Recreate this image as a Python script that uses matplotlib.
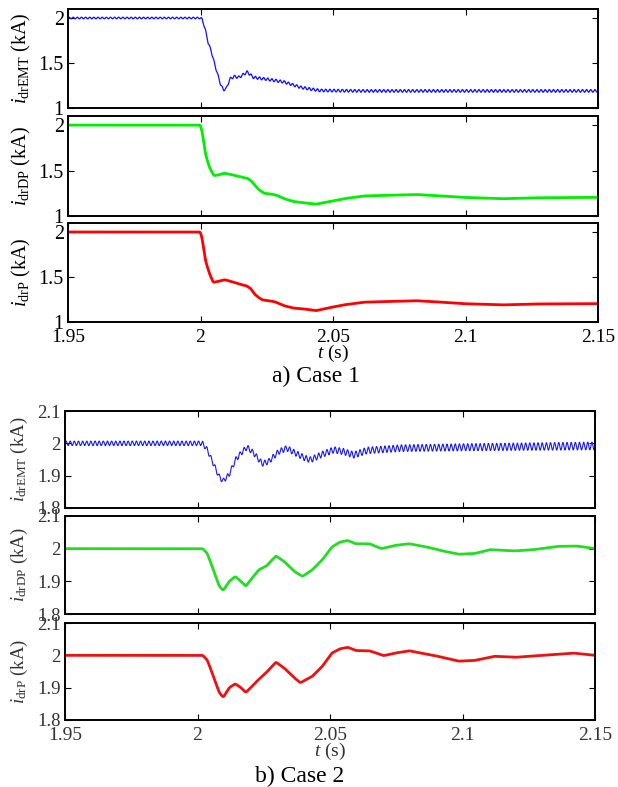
import numpy as np
import matplotlib
matplotlib.use("Agg")
import matplotlib.pyplot as plt

plt.rcParams['font.family'] = ['Liberation Serif', 'DejaVu Serif']
plt.rcParams['mathtext.fontset'] = 'custom'
plt.rcParams['mathtext.rm'] = 'Liberation Serif'
plt.rcParams['mathtext.it'] = 'Liberation Serif:italic'

# ---- Case 1 data ----
c1_emt_t = [1.95, 2.0, 2.0006, 2.0019, 2.0028, 2.0038, 2.0057, 2.0075, 2.0086, 2.0098, 2.011,
            2.0126, 2.0145, 2.0176, 2.02, 2.025, 2.0314, 2.0377, 2.0415, 2.045, 2.06, 2.15]
c1_emt_v = [2.0, 2.0, 1.99, 1.86, 1.73, 1.655, 1.45, 1.27, 1.20, 1.22, 1.32,
            1.35, 1.34, 1.40, 1.34, 1.32, 1.29, 1.23, 1.21, 1.195, 1.19, 1.19]
c1_ripple_t = [1.95, 2.0, 2.01, 2.15]
c1_ripple_a = [0.009, 0.009, 0.015, 0.015]

c1_dp_t = [1.95, 2.0, 2.0008, 2.0018, 2.0033, 2.005, 2.0066, 2.0088, 2.011, 2.0137, 2.0176,
           2.019, 2.0204, 2.022, 2.024, 2.027, 2.029, 2.0316, 2.035, 2.039, 2.0436, 2.048,
           2.054, 2.0615, 2.0734, 2.081, 2.088, 2.0988, 2.1137, 2.1257, 2.15]
c1_dp_v = [2.0, 2.0, 1.9, 1.69, 1.54, 1.445, 1.45, 1.47, 1.46, 1.44, 1.415,
           1.39, 1.34, 1.29, 1.25, 1.24, 1.225, 1.19, 1.16, 1.145, 1.13, 1.155,
           1.19, 1.22, 1.23, 1.237, 1.226, 1.205, 1.19, 1.20, 1.205]

c1_p_t = [1.95, 2.0, 2.0008, 2.0018, 2.0033, 2.0048, 2.0066, 2.009, 2.011, 2.0137, 2.0175,
          2.019, 2.0204, 2.022, 2.0234, 2.026, 2.028, 2.0316, 2.035, 2.039, 2.0436, 2.048,
          2.054, 2.0615, 2.0734, 2.081, 2.088, 2.0988, 2.1137, 2.1257, 2.15]
c1_p_v = [2.0, 2.0, 1.9, 1.69, 1.544, 1.44, 1.45, 1.47, 1.455, 1.43, 1.40,
          1.37, 1.31, 1.27, 1.245, 1.235, 1.225, 1.18, 1.155, 1.145, 1.126, 1.155,
          1.19, 1.22, 1.23, 1.237, 1.226, 1.204, 1.19, 1.20, 1.204]

# ---- Case 2 data ----
c2_emt_t = [1.95, 2.0, 2.0019, 2.0037, 2.0056, 2.0081, 2.0096, 2.0119, 2.0144, 2.0169, 2.0187,
            2.0212, 2.0244, 2.0269, 2.0306, 2.0337, 2.0369, 2.0406, 2.0427, 2.0465, 2.0515,
            2.0553, 2.059, 2.064, 2.0767, 2.102, 2.127, 2.15]
c2_emt_v = [2.0, 2.0, 2.0, 1.98, 1.944, 1.898, 1.883, 1.903, 1.95, 1.974, 1.988,
            1.97, 1.937, 1.944, 1.974, 1.985, 1.97, 1.954, 1.949, 1.964, 1.98,
            1.974, 1.964, 1.978, 1.985, 1.988, 1.99, 1.992]
c2_ripple_t = [1.95, 2.0, 2.06, 2.15]
c2_ripple_a = [0.007, 0.007, 0.010, 0.012]

c2_dp_t = [1.95, 2.002, 2.0037, 2.006, 2.0082, 2.0097, 2.012, 2.0142, 2.0164, 2.0182, 2.0201,
           2.0231, 2.026, 2.0296, 2.0328, 2.0366, 2.0396, 2.0433, 2.047, 2.0507, 2.0537,
           2.0567, 2.0597, 2.0649, 2.0694, 2.0746, 2.0799, 2.0866, 2.0925, 2.0985, 2.1045,
           2.1104, 2.1194, 2.1269, 2.1358, 2.1433, 2.15]
c2_dp_v = [2.0, 2.0, 1.985, 1.935, 1.885, 1.872, 1.90, 1.915, 1.90, 1.885, 1.905,
           1.935, 1.947, 1.978, 1.96, 1.93, 1.915, 1.935, 1.965, 2.005, 2.02,
           2.025, 2.015, 2.015, 2.0, 2.01, 2.015, 2.005, 1.993, 1.983, 1.985,
           1.997, 1.993, 1.997, 2.007, 2.008, 2.0]

c2_p_t = [1.95, 2.002, 2.0037, 2.006, 2.0082, 2.0097, 2.012, 2.0142, 2.0164, 2.0182, 2.0201,
          2.0224, 2.026, 2.0296, 2.0328, 2.0366, 2.0388, 2.0433, 2.047, 2.0507, 2.0537,
          2.0567, 2.0597, 2.0649, 2.0702, 2.0746, 2.0799, 2.0896, 2.0985, 2.1045,
          2.112, 2.12, 2.1418, 2.15]
c2_p_v = [2.0, 2.0, 1.985, 1.935, 1.885, 1.87, 1.90, 1.912, 1.90, 1.885, 1.90,
          1.92, 1.947, 1.979, 1.96, 1.93, 1.915, 1.935, 1.965, 2.007, 2.02,
          2.025, 2.015, 2.014, 1.999, 2.007, 2.014, 1.999, 1.982, 1.984,
          1.997, 1.994, 2.007, 2.0]

x_ticks = [1.95, 2.0, 2.05, 2.1, 2.15]
x_tick_labels = ['1.95', '2', '2.05', '2.1', '2.15']
c1_y_ticks = [1, 1.5, 2]
c1_y_tick_labels = ['1', '1.5', '2']
c2_y_ticks = [1.8, 1.9, 2.0, 2.1]
c2_y_tick_labels = ['1.8', '1.9', '2', '2.1']
ripple_hz = 640

W, H = 618, 787


def rect(left, top, right, bottom):
    return [left / W, 1 - bottom / H, (right - left) / W, (bottom - top) / H]


def smooth(t_keys, v_keys, win=13):
    # dense line through the read points, corners rounded a little
    t = np.linspace(1.95, 2.15, 3001)
    v = np.interp(t, t_keys, v_keys)
    k = np.ones(win) / win
    vp = np.pad(v, win // 2, mode='edge')
    return t, np.convolve(vp, k, mode='valid')


def emt(t_keys, v_keys, amp_t, amp_v):
    t, v = smooth(t_keys, v_keys, win=5)
    return t, v + np.interp(t, amp_t, amp_v) * np.sin(2 * np.pi * ripple_hz * (t - 1.95))


def panel(ax, t, y, color, lw, ylim, yticks, yticklabels, ylabel, bottom, txtcolor, ysize, lsize):
    ax.plot(t, y, color=color, lw=lw)
    ax.set_xlim(1.95, 2.15)
    ax.set_ylim(*ylim)
    ax.set_yticks(yticks)
    ax.set_yticklabels(yticklabels, fontsize=ysize, color=txtcolor)
    ax.set_xticks(x_ticks)
    if bottom:
        ax.set_xticklabels(x_tick_labels, fontsize=14, color=txtcolor)
        ax.set_xlabel('$\\mathit{t}$ (s)', fontsize=14, color=txtcolor, labelpad=-2)
    else:
        ax.set_xticklabels([])
    ax.tick_params(direction='in', top=True, right=True, length=4, width=0.8)
    ax.tick_params(axis='x', pad=5)
    ax.tick_params(axis='y', pad=3)
    for s in ax.spines.values():
        s.set_linewidth(1.4)
    ax.set_ylabel(ylabel, fontsize=lsize, color=txtcolor)
    ax.yaxis.set_label_coords(-0.066, 0.5)


fig = plt.figure(figsize=(W / 100, H / 100), dpi=100)

# Case 1
ax = fig.add_axes(rect(68, 9, 598, 108))
t, y = emt(c1_emt_t, c1_emt_v, c1_ripple_t, c1_ripple_a)
panel(ax, t, y, '#1010ff', 0.9, (1, 2.1), c1_y_ticks, c1_y_tick_labels,
      '$i_{\\mathrm{drEMT}}$ (kA)', False, 'black', 14.5, 14.5)
ax = fig.add_axes(rect(68, 116, 598, 216))
t, y = smooth(c1_dp_t, c1_dp_v)
panel(ax, t, y, '#00ee00', 2.0, (1, 2.1), c1_y_ticks, c1_y_tick_labels,
      '$i_{\\mathrm{drDP}}$ (kA)', False, 'black', 14.5, 14.5)
ax = fig.add_axes(rect(68, 223, 598, 322))
t, y = smooth(c1_p_t, c1_p_v)
panel(ax, t, y, '#ff0000', 2.0, (1, 2.1), c1_y_ticks, c1_y_tick_labels,
      '$i_{\\mathrm{drP}}$ (kA)', True, 'black', 14.5, 14.5)
fig.text(316 / W, 1 - 376 / H, 'a) Case 1', fontsize=17, ha='center', va='center')

# Case 2
gray = '#333333'
ax = fig.add_axes(rect(65, 411, 595, 508))
t, y = emt(c2_emt_t, c2_emt_v, c2_ripple_t, c2_ripple_a)
panel(ax, t, y, '#1a1aee', 0.8, (1.8, 2.1), c2_y_ticks, c2_y_tick_labels,
      '$i_{\\mathrm{drEMT}}$ (kA)', False, gray, 13.5, 13.5)
ax = fig.add_axes(rect(65, 516, 595, 614))
t, y = smooth(c2_dp_t, c2_dp_v)
panel(ax, t, y, '#22dd22', 2.0, (1.8, 2.1), c2_y_ticks, c2_y_tick_labels,
      '$i_{\\mathrm{drDP}}$ (kA)', False, gray, 13.5, 13.5)
ax = fig.add_axes(rect(65, 623, 595, 720))
t, y = smooth(c2_p_t, c2_p_v)
panel(ax, t, y, '#ee1111', 2.0, (1.8, 2.1), c2_y_ticks, c2_y_tick_labels,
      '$i_{\\mathrm{drP}}$ (kA)', True, gray, 13.5, 13.5)
fig.text(300 / W, 1 - 776 / H, 'b) Case 2', fontsize=17, ha='center', va='center')

fig.savefig('out.png', dpi=100)
